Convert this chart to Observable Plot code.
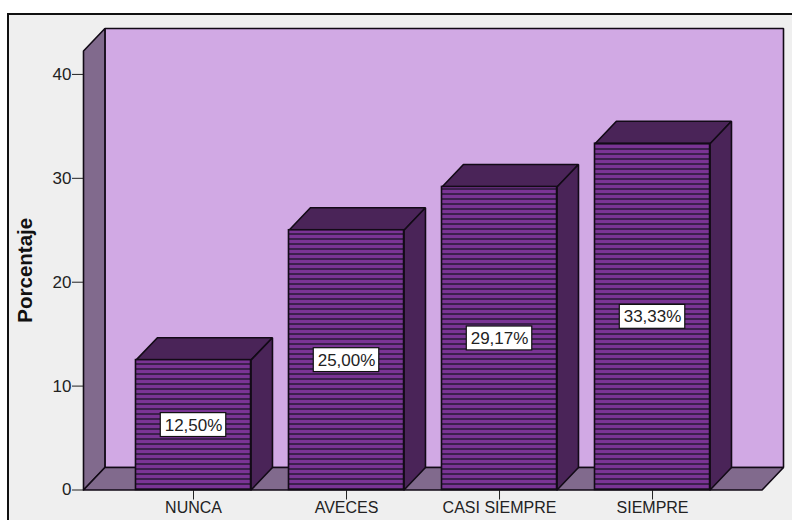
<!DOCTYPE html>
<html>
<head>
<meta charset="utf-8">
<script src="https://cdn.jsdelivr.net/npm/d3@7"></script>
<script src="https://cdn.jsdelivr.net/npm/@observablehq/plot@0.6"></script>
<style>
  html, body { margin: 0; padding: 0; background: #fff; overflow: hidden; }
  #chart { position: relative; width: 792px; height: 520px; overflow: hidden; }
  #panel { position: absolute; left: 7px; top: 13px; width: 800px; height: 520px;
           background: #efefef; border: 2px solid #111; }
  #chart svg { position: absolute; left: 0; top: 0; background: transparent; }
</style>
</head>
<body>
<div id="chart"><div id="panel"></div></div>
<script>
// Response shares per answer category
const categories = ["NUNCA", "AVECES", "CASI SIEMPRE", "SIEMPRE"];
const percentages = [12.5, 25.0, 29.17, 33.33];
const yTicks = [0, 10, 20, 30, 40];

// Extent of the box, in scale units: category index across, percent up
const xMin = -0.719, xMax = 3.856, yMax = 44.42;
const barHalf = 0.376;
const depthX = 0.14, depthY = 2.16;
const boxHalfX = 0.214, boxHalfY = 1.15;

const colors = {wall: "#d1a9e4", side: "#816a8d", barDark: "#4a2458", edge: "#120a16"};

const bars = categories.map((name, i) => ({
  name, i, value: percentages[i],
  x1: i - barHalf, x2: i + barHalf
}));

// Closed outline per face, one line series per z key
const outline = (key, pts) => [...pts, pts[0]].map(([x, y]) => ({key, x, y}));
const face = (data, fill) => Plot.line(data, {
  x: "x", y: "y", z: "key", fill, stroke: colors.edge, strokeWidth: 1.6, strokeLinejoin: "miter"
});

const backWall = outline("back", [[xMin + depthX, depthY], [xMax, depthY], [xMax, yMax], [xMin + depthX, yMax]]);
const sideWall = outline("side", [[xMin, 0], [xMin + depthX, depthY], [xMin + depthX, yMax], [xMin, yMax - depthY]]);
const floor = outline("floor", [[xMin, 0], [xMax - depthX, 0], [xMax, depthY], [xMin + depthX, depthY]]);
const barTops = bars.flatMap(b => outline("t" + b.i, [
  [b.x1, b.value], [b.x2, b.value], [b.x2 + depthX, b.value + depthY], [b.x1 + depthX, b.value + depthY]
]));
const barSides = bars.flatMap(b => outline("s" + b.i, [
  [b.x2, 0], [b.x2 + depthX, depthY], [b.x2 + depthX, b.value + depthY], [b.x2, b.value]
]));

// Horizontal hatch used on the bar fronts
const stripes = () => {
  const defs = document.createElementNS("http://www.w3.org/2000/svg", "defs");
  defs.innerHTML = `<pattern id="stripes" patternUnits="userSpaceOnUse" width="5" height="5">
    <rect width="5" height="5" fill="#7a3494"/>
    <rect y="3" width="5" height="2" fill="#3c1f4d"/>
  </pattern>`;
  return defs;
};

const label = v => v.toFixed(2).replace(".", ",") + "%";

const chart = Plot.plot({
  width: 792,
  height: 520,
  marginLeft: 83,
  marginRight: 9,
  marginTop: 28,
  marginBottom: 30.5,
  style: {fontFamily: "'Liberation Sans', Arial, sans-serif", background: "transparent", color: "#222"},
  x: {domain: [xMin, xMax]},
  y: {domain: [0, yMax]},
  marks: [
    stripes,
    face(backWall, colors.wall),
    face(sideWall, colors.side),
    face(floor, colors.side),
    Plot.axisY({
      ticks: yTicks, tickSize: 11, tickPadding: 1, fontSize: 17, label: null, stroke: "#222"
    }),
    Plot.axisX({
      ticks: bars.map(b => b.i), tickFormat: i => categories[i], tickSize: 10, tickPadding: 2,
      fontSize: 16, label: null, stroke: "#222"
    }),
    Plot.text(["Porcentaje"], {
      frameAnchor: "left", textAnchor: "middle", dx: -58, y: [21.15], rotate: -90,
      fontSize: 20.5, fontWeight: "bold", fill: "#111"
    }),
    face(barTops, colors.barDark),
    face(barSides, colors.barDark),
    Plot.rect(bars, {
      x1: "x1", x2: "x2", y1: 0, y2: "value",
      fill: "url(#stripes)", stroke: colors.edge, strokeWidth: 1.6
    }),
    Plot.rect(bars, {
      x1: b => b.i - boxHalfX, x2: b => b.i + boxHalfX,
      y1: b => b.value / 2 - boxHalfY, y2: b => b.value / 2 + boxHalfY,
      fill: "#fff", stroke: "#111", strokeWidth: 1.2
    }),
    Plot.text(bars, {
      x: "i", y: b => b.value / 2, text: b => label(b.value), fontSize: 17, fill: "#222"
    })
  ]
});
document.getElementById("chart").appendChild(chart);
</script>
</body>
</html>
